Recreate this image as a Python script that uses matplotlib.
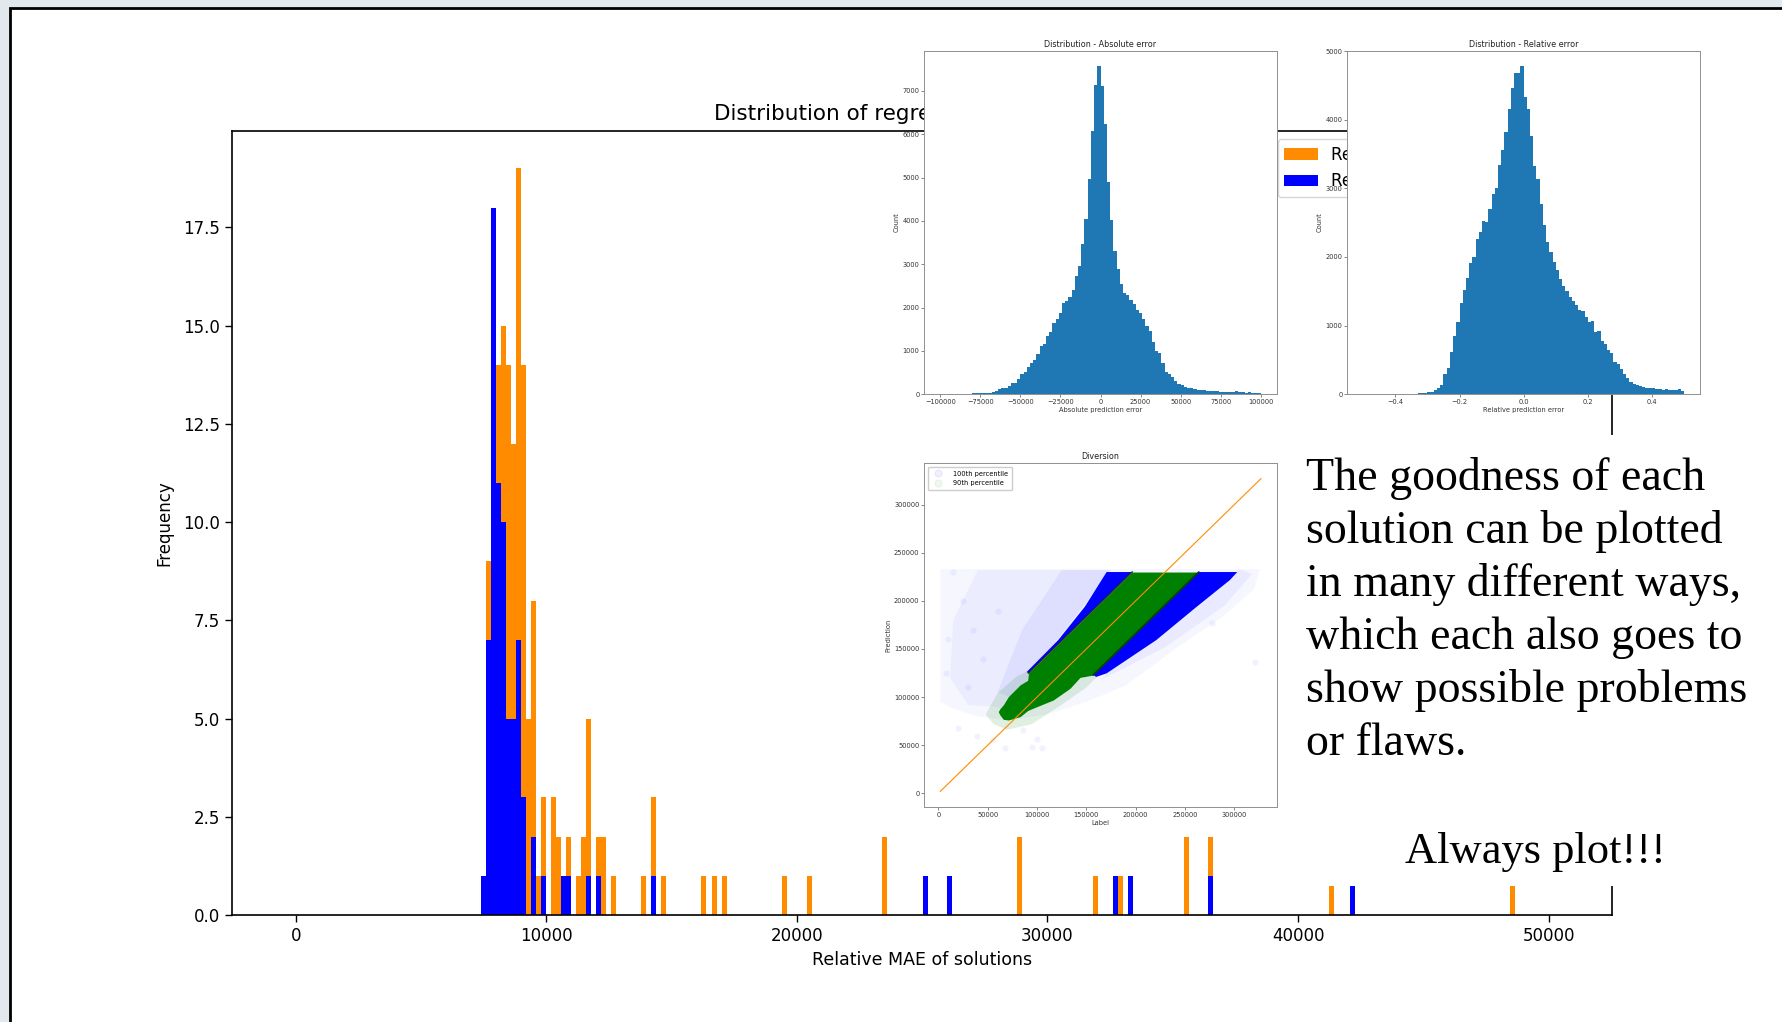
import matplotlib
matplotlib.use('Agg')
import matplotlib.pyplot as plt
from matplotlib.patches import Rectangle, Polygon
from matplotlib.lines import Line2D
import numpy as np

W, H = 1783, 1022

# ---------------- main histogram (Relative MAE of solutions) ----------------
BIN_W = 200
orange_left = [7580, 7780, 7980, 8180, 8380, 8580, 8780, 8980, 9180, 9380, 9580, 9780,
               10180, 10380, 10780, 11180, 11380, 11580, 11980, 12180, 12580,
               13800, 14170, 14580, 16190, 16600, 17000, 19390, 20420, 23400,
               28780, 31820, 32800, 35440, 36410, 41230, 48450]
orange_count = [9, 13, 14, 15, 14, 12, 19, 14, 5, 8, 1, 3,
                3, 2, 2, 1, 2, 5, 2, 2, 1,
                1, 3, 1, 1, 1, 1, 1, 1, 2,
                2, 1, 1, 2, 2, 1, 1]
blue_left = [7380, 7580, 7780, 7980, 8180, 8380, 8580, 8780, 8980, 9380, 9780,
             10580, 10780, 11580, 11980, 14170, 25030, 26010, 32600, 33200, 36410, 42060]
blue_count = [1, 7, 18, 11, 10, 5, 5, 7, 3, 2, 1,
              1, 1, 1, 1, 1, 1, 1, 1, 1, 1, 1]
main_xticks = [0, 10000, 20000, 30000, 40000, 50000]
main_yticks = [0.0, 2.5, 5.0, 7.5, 10.0, 12.5, 15.0, 17.5]
legend_labels = ["Relative MAE of solutions (train)", "Relative MAE of solutions (test)"]

# ---------------- inset 1: absolute error histogram ----------------
abs_counts = [0, 0, 0, 0, 0, 0, 0, 0, 0, 0,
              20, 22, 25, 35, 38, 40, 45, 77, 115, 140,
              155, 200, 254, 270, 346, 461, 515, 623, 715, 792,
              930, 1115, 1168, 1345, 1445, 1637, 1730, 1883, 2098, 2160,
              2237, 2406, 2736, 2959, 3459, 4035, 4958, 6072, 7148, 7571,
              7110, 6234, 4896, 4020, 3313, 2898, 2544, 2329, 2290, 2175,
              2075, 1945, 1868, 1745, 1583, 1460, 1199, 999, 945, 730,
              507, 461, 392, 315, 246, 215, 177, 146, 146, 123,
              108, 100, 92, 85, 77, 69, 69, 61, 54, 61,
              46, 61, 69, 46, 61, 38, 46, 38, 31, 23]
abs_range = (-100000, 100000)
abs_xticks = [-100000, -75000, -50000, -25000, 0, 25000, 50000, 75000, 100000]
abs_yticks = [0, 1000, 2000, 3000, 4000, 5000, 6000, 7000]

# ---------------- inset 2: relative error histogram ----------------
rel_counts = [0, 0, 0, 0, 0, 0, 0, 0, 0, 0,
              0, 0, 1, 2, 3, 5, 10, 15, 19, 24,
              29, 39, 63, 87, 136, 296, 389, 622, 855, 1050,
              1331, 1526, 1691, 1919, 2002, 2255, 2357, 2527, 2507, 2702,
              2911, 2998, 3333, 3552, 3824, 4159, 4465, 4679, 4679, 4786,
              4329, 4159, 3756, 3328, 3129, 2770, 2468, 2225, 2075, 1924,
              1812, 1681, 1579, 1501, 1424, 1356, 1297, 1229, 1215, 1122,
              1050, 1069, 913, 923, 782, 729, 641, 607, 471, 447,
              374, 296, 238, 185, 151, 131, 121, 112, 92, 97,
              87, 83, 78, 58, 78, 68, 68, 68, 73, 49]
rel_range = (-0.5, 0.5)
rel_xticks = [-0.4, -0.2, 0.0, 0.2, 0.4]
rel_yticks = [0, 1000, 2000, 3000, 4000, 5000]

# ---------------- inset 3: "Diversion" scatter (label vs prediction) ----------------
band_x = [60800, 62500, 65900, 71000, 82800, 90500, 91500, 99700, 116500, 133400,
          143600, 157000, 196500, 230000, 264000]
green_lo = [84900, 81400, 76900, 76200, 79700, 86000, 86500, 90000, 97000, 109100,
            120500, 123000, 162500, 196000, 230000]
green_hi = [84900, 88000, 92000, 100500, 112600, 117500, 125000, 133200, 150000, 166900,
            177100, 190500, 230000, 230000, 230000]
blue_ul_x = [89500, 121600, 148600, 170600, 196500, 91500]
blue_ul_y = [126000, 159300, 194000, 230000, 230000, 125000]
blue_lr_x = [157000, 264000, 303000, 295600, 262000, 221000, 170600, 160000]
blue_lr_y = [123000, 230000, 230000, 221700, 194000, 159300, 124700, 121000]
faint1_x = [2000, 2000, 326000, 320000, 290000, 240000, 190000, 150000, 110000, 70000, 40000, 15000]
faint1_y = [95000, 233000, 233000, 212000, 185000, 150000, 112000, 95000, 82000, 76000, 80000, 88000]
faint2_x = [30000, 80000, 100000, 175000, 40000, 15000, 12000]
faint2_y = [92000, 88000, 120000, 232000, 232000, 180000, 120000]
faint3_x = [60000, 78000, 92000, 175000, 125000, 85000]
faint3_y = [105000, 98000, 122000, 232000, 232000, 170000]
faint4_x = [165000, 230000, 290000, 318000, 305000, 240000]
faint4_y = [118000, 152000, 195000, 228000, 233000, 200000]
halo_x = [48000, 56000, 70000, 95000, 125000, 150000, 162000, 140000, 100000, 93000, 80000, 60000]
halo_y = [82000, 72000, 66000, 72000, 92000, 110000, 122000, 126000, 124000, 128000, 122000, 104000]
lone_x = [38900, 67600, 86000, 94600, 104700, 100000, 321000, 277000, 55000, 20000,
          10000, 25000, 45000, 30000, 8000, 60000, 15000, 35000]
lone_y = [59600, 46800, 65800, 48500, 46800, 56000, 136800, 177300, 55000, 68000,
          160000, 200000, 140000, 110000, 125000, 190000, 230000, 170000]
diag_x = [2000, 327000]
diag_y = [2000, 327000]
div_ticks = [0, 50000, 100000, 150000, 200000, 250000, 300000]

# ---------------- slide text ----------------
body_lines = ["The goodness of each", "solution can be plotted", "in many different ways,",
              "which each also goes to", "show possible problems", "or flaws."]
shout = "Always plot!!!"

# =====================================================================
fig = plt.figure(figsize=(W / 100, H / 100), dpi=100)
fig.patch.set_facecolor('#e3e7ee')


def axes_px(l, t, r, b, **kw):
    return fig.add_axes([l / W, 1 - b / H, (r - l) / W, (b - t) / H], **kw)


# slide frame
fig.add_artist(Rectangle((10 / W, -0.05), 1.2, 1.05 - 8.5 / H, transform=fig.transFigure,
                         facecolor='white', edgecolor='black', linewidth=2.0, zorder=-5))

# main axes
ax = axes_px(232, 131, 1612.4, 915.3, zorder=0)
ax.bar(orange_left, orange_count, width=BIN_W, align='edge', color='darkorange',
       linewidth=0, label=legend_labels[0])
ax.bar(blue_left, blue_count, width=BIN_W, align='edge', color='blue',
       linewidth=0, label=legend_labels[1])
ax.set_xlim(-2540, 52545)
ax.set_ylim(0, 19.95)
ax.set_xticks(main_xticks)
ax.set_yticks(main_yticks)
ax.tick_params(labelsize=12, length=5, width=1.0)
for s in ax.spines.values():
    s.set_linewidth(1.2)
ax.set_xlabel("Relative MAE of solutions", fontsize=12.5)
ax.set_ylabel("Frequency", fontsize=12, labelpad=7)
ax.set_title("Distribution of regression model errors", fontsize=15.5, pad=8)
ax.legend(loc='upper right', fontsize=12)

# white text box covering part of the chart
fig.add_artist(Rectangle((1290 / W, 1 - 885.8 / H), 0.3, (885.8 - 435.5) / H,
                         transform=fig.transFigure, facecolor='white', edgecolor='none', zorder=1))


def style_inset(a):
    for s in a.spines.values():
        s.set_color('#909090')
        s.set_linewidth(0.7)
    a.tick_params(labelsize=4.8, length=2, width=0.5, color='#555555', labelcolor='#333333', pad=1.5)
    a.set_facecolor('white')


# inset 1
a1 = axes_px(924.3, 50.7, 1276.7, 394.3, zorder=3)
e1 = np.linspace(abs_range[0], abs_range[1], len(abs_counts) + 1)
a1.bar(e1[:-1], abs_counts, width=e1[1] - e1[0], align='edge', color='#1f77b4', linewidth=0)
a1.set_xlim(-110000, 110000)
a1.set_ylim(0, 7930)
a1.set_xticks(abs_xticks)
a1.set_yticks(abs_yticks)
style_inset(a1)
a1.set_title("Distribution - Absolute error", fontsize=5.8, pad=3, color='#222222')
a1.set_xlabel("Absolute prediction error", fontsize=4.8, labelpad=1.5, color='#333333')
a1.set_ylabel("Count", fontsize=4.8, labelpad=2, color='#333333')

# inset 2
a2 = axes_px(1347.3, 50.7, 1700, 394.3, zorder=3)
e2 = np.linspace(rel_range[0], rel_range[1], len(rel_counts) + 1)
a2.bar(e2[:-1], rel_counts, width=e2[1] - e2[0], align='edge', color='#1f77b4', linewidth=0)
a2.set_xlim(-0.55, 0.55)
a2.set_ylim(0, 5005)
a2.set_xticks(rel_xticks)
a2.set_yticks(rel_yticks)
style_inset(a2)
a2.set_title("Distribution - Relative error", fontsize=5.8, pad=3, color='#222222')
a2.set_xlabel("Relative prediction error", fontsize=4.8, labelpad=1.5, color='#333333')
a2.set_ylabel("Count", fontsize=4.8, labelpad=2, color='#333333')

# inset 3
a3 = axes_px(924.3, 463.3, 1276.7, 806.7, zorder=3)
for px, py, al in [(faint1_x, faint1_y, 0.035), (faint2_x, faint2_y, 0.04),
                   (faint3_x, faint3_y, 0.06), (faint4_x, faint4_y, 0.05)]:
    a3.add_patch(Polygon(np.column_stack([px, py]), closed=True, facecolor='blue',
                         alpha=al, edgecolor='none'))
a3.scatter(lone_x, lone_y, s=20, color='blue', alpha=0.05, linewidths=0)
a3.add_patch(Polygon(np.column_stack([halo_x, halo_y]), closed=True, facecolor='green',
                     alpha=0.12, edgecolor='none'))
a3.add_patch(Polygon(np.column_stack([blue_ul_x, blue_ul_y]), closed=True, facecolor='blue',
                     edgecolor='none'))
a3.add_patch(Polygon(np.column_stack([blue_lr_x, blue_lr_y]), closed=True, facecolor='blue',
                     edgecolor='none'))
a3.fill_between(band_x, green_lo, green_hi, color='green', linewidth=0)
a3.plot(band_x[6:13], green_hi[6:13], color='#0b2b0b', lw=1.2, alpha=0.8)
a3.plot(band_x[11:], green_lo[11:], color='#0b2b0b', lw=1.2, alpha=0.8)
a3.plot(diag_x, diag_y, color='darkorange', lw=0.8)
a3.set_xlim(-14200, 343000)
a3.set_ylim(-13900, 343000)
a3.set_xticks(div_ticks)
a3.set_yticks(div_ticks)
style_inset(a3)
a3.set_title("Diversion", fontsize=5.8, pad=3, color='#222222')
a3.set_xlabel("Label", fontsize=4.8, labelpad=1.5, color='#333333')
a3.set_ylabel("Prediction", fontsize=4.8, labelpad=2, color='#333333')
hnd = [Line2D([], [], marker='o', linestyle='', color='blue', alpha=0.06, markersize=5,
              label='100th percentile'),
       Line2D([], [], marker='o', linestyle='', color='green', alpha=0.06, markersize=5,
              label='90th percentile')]
a3.legend(handles=hnd, loc='upper left', fontsize=4.8, framealpha=1, edgecolor='#cccccc',
          borderpad=0.6, handletextpad=1.2)

# slide text
for i, line in enumerate(body_lines):
    fig.text(1306.5 / W, 1 - (490 + 53 * i) / H, line, fontsize=33, family='Liberation Serif',
             ha='left', va='baseline', zorder=4)
fig.text(1405.5 / W, 1 - 863 / H, shout, fontsize=32, family='Liberation Serif',
         ha='left', va='baseline', zorder=4)

fig.savefig('out.png', dpi=100, facecolor=fig.get_facecolor())
